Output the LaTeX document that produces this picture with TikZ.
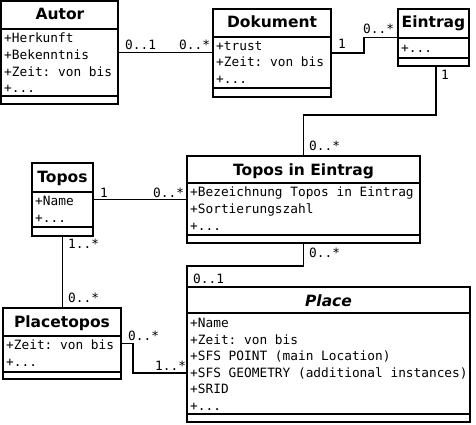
\documentclass[tikz,border=0pt]{standalone}
\usepackage{fontspec}
\setsansfont{DejaVu Sans}
\setmonofont{DejaVu Sans Mono}
\usetikzlibrary{calc}

\begin{document}
\begin{tikzpicture}[x=1pt,y=-1pt,
    umlbox/.style={draw, line width=1.6pt, fill=white, anchor=north west, inner sep=0pt, outer sep=0pt},
    compartment/.style={line width=1.6pt},
    classname/.style={anchor=base, inner sep=0pt, font=\sffamily\bfseries\fontsize{15.5}{18}\selectfont},
    attribs/.style={anchor=north west, inner sep=0pt, align=left, font=\ttfamily\fontsize{12.8}{16.6}\selectfont,
        execute at begin node={\rule{0pt}{10pt}}},
    multiplicity/.style={anchor=base west, inner sep=0pt, font=\ttfamily\fontsize{12.8}{15}\selectfont},
    assoc/.style={line width=1.6pt}]
   \useasboundingbox (0,0) rectangle (476,425);

   % classes
   \node[umlbox, minimum width=117pt, minimum height=103pt] (autor) at (1,1) {};
   \draw[compartment] (1,29) -- (118,29);
   \draw[compartment] (1,96) -- (118,96);
   \node[classname] (autortitle) at (60,20) {Autor};
   \node[attribs] (autorattr) at (4,33) {+Herkunft\\+Bekenntnis\\+Zeit: von bis\\+...};

   \node[umlbox, minimum width=118pt, minimum height=88pt] (dokument) at (213,9) {};
   \draw[compartment] (213,37) -- (331,37);
   \draw[compartment] (213,88) -- (331,88);
   \node[classname] (dokumenttitle) at (272,28) {Dokument};
   \node[attribs] (dokumentattr) at (216,41) {+trust\\+Zeit: von bis\\+...};

   \node[umlbox, minimum width=71pt, minimum height=57pt] (eintrag) at (398,9) {};
   \draw[compartment] (398,38) -- (469,38);
   \draw[compartment] (398,58) -- (469,58);
   \node[classname] (eintragtitle) at (433.5,28) {Eintrag};
   \node[attribs] (eintragattr) at (401,42) {+...};

   \node[umlbox, minimum width=233pt, minimum height=87pt] (tie) at (187,156) {};
   \draw[compartment] (187,183) -- (420,183);
   \draw[compartment] (187,235) -- (420,235);
   \node[classname] (tietitle) at (303.5,175) {Topos in Eintrag};
   \node[attribs] (tieattr) at (190,187) {+Bezeichnung Topos in Eintrag\\+Sortierungszahl\\+...};

   \node[umlbox, minimum width=61pt, minimum height=73pt] (topos) at (32,163) {};
   \draw[compartment] (32,192) -- (93,192);
   \draw[compartment] (32,227) -- (93,227);
   \node[classname] (topostitle) at (62.5,182) {Topos};
   \node[attribs] (toposattr) at (35,196) {+Name\\+...};

   \node[umlbox, minimum width=118pt, minimum height=71pt] (placetopos) at (3,308) {};
   \draw[compartment] (3,336) -- (121,336);
   \draw[compartment] (3,372) -- (121,372);
   \node[classname] (placetopostitle) at (62,327) {Placetopos};
   \node[attribs] (placetoposattr) at (6,340) {+Zeit: von bis\\+...};

   \node[umlbox, minimum width=283pt, minimum height=135pt] (place) at (187,287) {};
   \draw[compartment] (187,313) -- (470,313);
   \draw[compartment] (187,414) -- (470,414);
   \node[classname, font=\sffamily\bfseries\itshape\fontsize{15.5}{18}\selectfont] (placetitle) at (328.5,306) {Place};
   \node[attribs] (placeattr) at (190,318) {+Name\\+Zeit: von bis\\+SFS POINT (main Location)\\+SFS GEOMETRY (additional instances)\\+SRID\\+...};

   % associations
   \draw[assoc] (autor.east) -- (autor.east -| dokument.west);
   \draw[assoc] (dokument.east) -- ++(33,0) |- (eintrag.west);
   \draw[assoc] ($(eintrag.south)+(2.5,0)$) -- ++(0,49) -| (tie.north);
   \draw[assoc] (topos.east) -- (topos.east -| tie.west);
   \draw[assoc] (topos.south) -- (topos.south |- placetopos.north);
   \draw[assoc] (tie.south) -- ++(0,23) -| (place.north west);
   \draw[assoc] (placetopos.east) -- ++(12,0) |- ($(place.west)+(0,18.5)$);

   % multiplicities
   \node[multiplicity] (m1) at (125,50) {0..1};
   \node[multiplicity] (m2) at (179,50) {0..*};
   \node[multiplicity] (m3) at (338,49) {1};
   \node[multiplicity] (m4) at (363,34) {0..*};
   \node[multiplicity] (m5) at (441,80) {1};
   \node[multiplicity] (m6) at (309,150) {0..*};
   \node[multiplicity] (m7) at (100,197) {1};
   \node[multiplicity] (m8) at (153,197) {0..*};
   \node[multiplicity] (m9) at (68,248) {1..*};
   \node[multiplicity] (m10) at (68,302) {0..*};
   \node[multiplicity] (m11) at (309,257) {0..*};
   \node[multiplicity] (m12) at (193,283) {0..1};
   \node[multiplicity] (m13) at (128,340) {0..*};
   \node[multiplicity] (m14) at (155,370) {1..*};
 \end{tikzpicture}
\end{document}
